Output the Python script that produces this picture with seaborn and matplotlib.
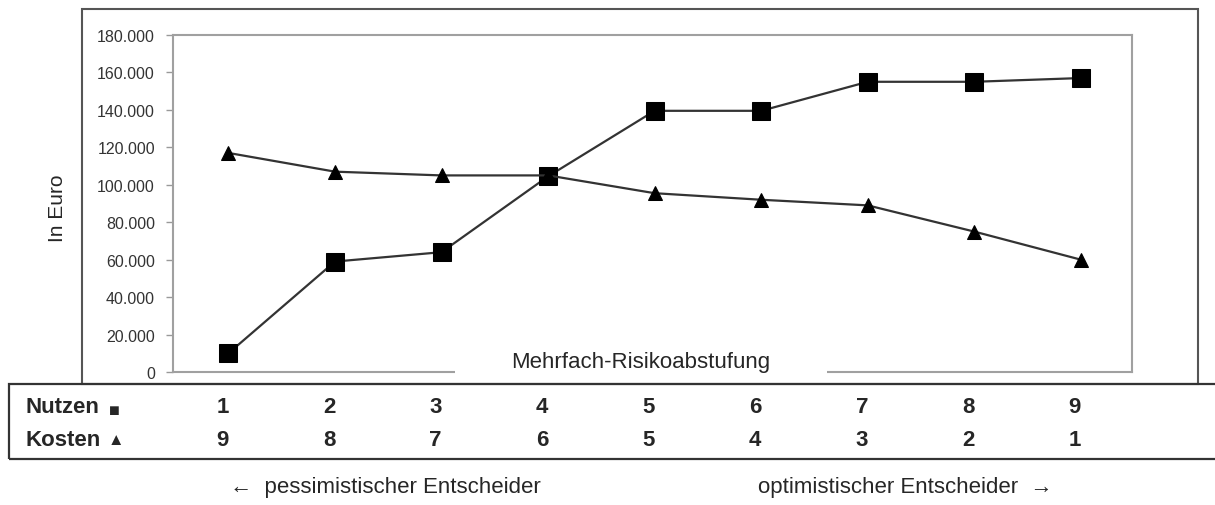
import seaborn as sns
import matplotlib.pyplot as plt
import matplotlib.transforms as mtransforms
from matplotlib.patches import Rectangle
from matplotlib.ticker import FuncFormatter

# data
levels = [1, 2, 3, 4, 5, 6, 7, 8, 9]
kosten_stufe = [9, 8, 7, 6, 5, 4, 3, 2, 1]
nutzen = [10000, 59000, 64000, 104500, 139500, 139500, 155000, 155000, 157000]
kosten = [117000, 107000, 105000, 105000, 95500, 92000, 89000, 75000, 60000]
y_ticks = [0, 20000, 40000, 60000, 80000, 100000, 120000, 140000, 160000, 180000]

sns.set_style("white")
plt.rcParams['font.family'] = ['Liberation Sans', 'DejaVu Sans']

fig = plt.figure(figsize=(12.15, 5.06), dpi=100)
ax = fig.add_axes([0.1424, 0.2628, 0.7893, 0.6661])

sns.lineplot(x=levels, y=nutzen, ax=ax, color='#333333', linewidth=1.6,
             marker='s', markersize=13, markerfacecolor='black', markeredgecolor='black')
sns.lineplot(x=levels, y=kosten, ax=ax, color='#333333', linewidth=1.6,
             marker='^', markersize=10, markerfacecolor='black', markeredgecolor='black')

ax.set_xlim(0.48, 9.48)
ax.set_ylim(0, 180000)
ax.set_yticks(y_ticks)
ax.yaxis.set_major_formatter(FuncFormatter(lambda v, p: f"{v:,.0f}".replace(",", ".")))
ax.set_xticks([])
ax.tick_params(axis='y', left=True, length=5, width=1, color='#999999',
               labelsize=11.5, labelcolor='#333333', pad=8)
for s in ax.spines.values():
    s.set_color('#a0a0a0')
    s.set_linewidth(1.5)
ax.set_xlabel('')
ax.set_ylabel('')

# gap in the bottom frame for the axis title
ax.add_patch(Rectangle((0.294, -0.03), 0.388, 0.09, transform=ax.transAxes,
                       facecolor='white', edgecolor='none', clip_on=False, zorder=3))
ax.text(0.488, 0.03, 'Mehrfach-Risikoabstufung', transform=ax.transAxes,
        ha='center', va='center', fontsize=16, zorder=4)

fig.text(0.047, 0.588, 'In Euro', rotation=90, ha='center', va='center', fontsize=15)

# outer chart frame and table frame
fig.patches.append(Rectangle((0.0675, 0.2391), 0.9185, 0.7411, transform=fig.transFigure,
                             fill=False, edgecolor='#555555', linewidth=1.5))
fig.patches.append(Rectangle((0.0074, 0.0909), 1.1, 0.1482, transform=fig.transFigure,
                             fill=False, edgecolor='#333333', linewidth=1.6))

# table below the chart
y_nutzen, y_kosten = 0.1937, 0.1304
fig.text(0.0206, y_nutzen, 'Nutzen', fontsize=16, fontweight='bold', va='center')
fig.text(0.0895, y_nutzen - 0.006, '■', fontsize=13, va='center')
fig.text(0.0206, y_kosten, 'Kosten', fontsize=16, fontweight='bold', va='center')
fig.text(0.0885, y_kosten, '▲', fontsize=12, va='center')

blend = mtransforms.blended_transform_factory(ax.transData, fig.transFigure)
shift = mtransforms.ScaledTranslation(-6 / 100, 0, fig.dpi_scale_trans)
for x, n, k in zip(levels, levels, kosten_stufe):
    fig.text(x, y_nutzen, str(n), transform=blend + shift, ha='center', va='center',
             fontsize=16, fontweight='bold')
    fig.text(x, y_kosten, str(k), transform=blend + shift, ha='center', va='center',
             fontsize=16, fontweight='bold')

fig.text(0.1893, 0.0375, '←  pessimistischer Entscheider', ha='left', va='center', fontsize=16)
fig.text(0.8667, 0.0375, 'optimistischer Entscheider  →', ha='right', va='center', fontsize=16)

plt.savefig('out.png', dpi=100, facecolor='white')
